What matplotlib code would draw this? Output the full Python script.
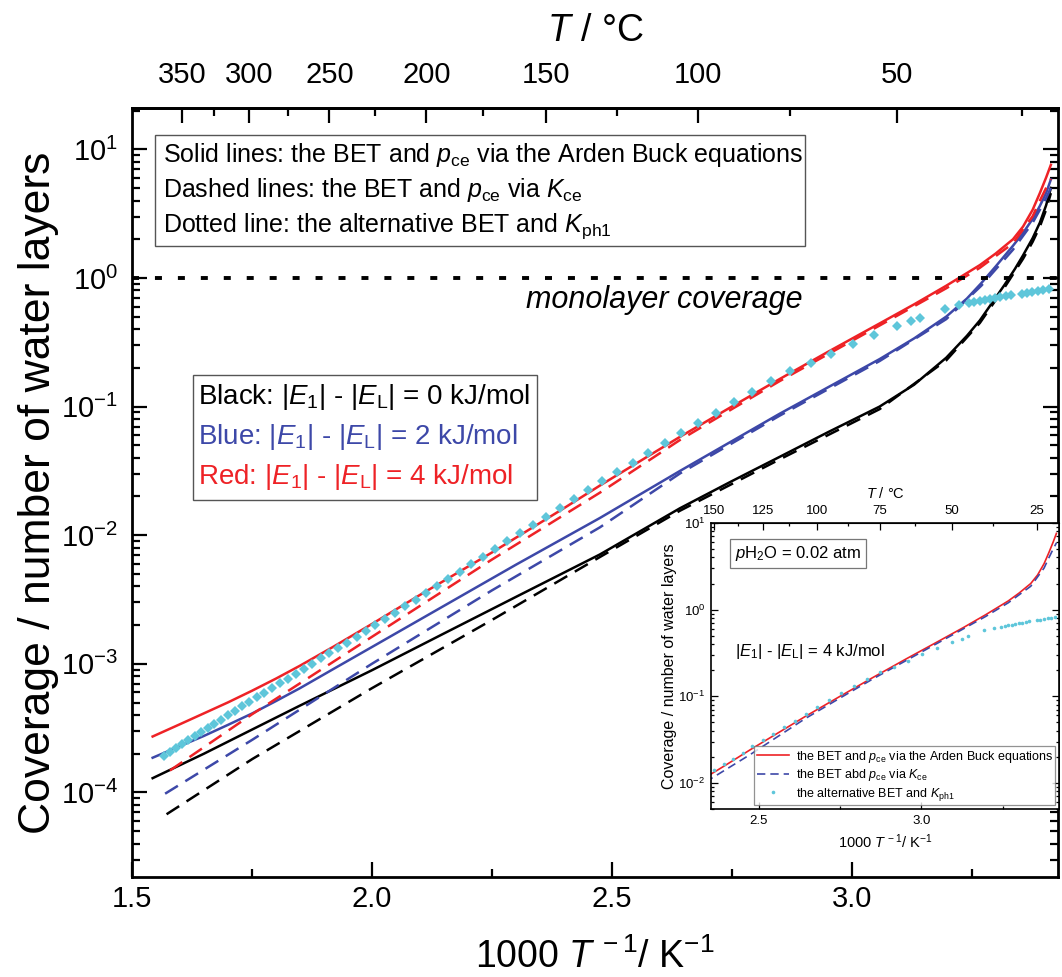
import numpy as np
import matplotlib
matplotlib.use("Agg")
import matplotlib.pyplot as plt
from matplotlib.patches import Rectangle
from matplotlib.ticker import FixedLocator, MultipleLocator, NullFormatter

plt.rcParams['font.family'] = ['Liberation Sans', 'DejaVu Sans']
plt.rcParams['mathtext.fontset'] = 'custom'
plt.rcParams['mathtext.rm'] = 'Liberation Sans'
plt.rcParams['mathtext.it'] = 'Liberation Sans:italic'
plt.rcParams['mathtext.bf'] = 'Liberation Sans:bold'

RED = "#ee2226"
BLUE = "#3d48a8"
CYAN = "#5ec6da"

# ---- data: 1000/T (K^-1) vs coverage ----
# solid lines: BET + p_ce via Arden Buck
x_red = [1.543, 1.60, 1.65, 1.70, 1.75, 1.80, 1.85, 1.92, 2.00, 2.10, 2.25, 2.40,
         2.475, 2.642, 2.75, 2.85, 2.95, 3.058, 3.13, 3.197, 3.267, 3.30, 3.336,
         3.357, 3.377, 3.392, 3.405, 3.415]
y_red = [2.72e-4, 3.39e-4, 4.12e-4, 5.01e-4, 6.17e-4, 7.67e-4, 9.66e-4, 1.36e-3,
         2.04e-3, 3.43e-3, 7.33e-3, 1.62e-2, 2.43e-2, 5.82e-2, 0.100, 0.164, 0.266,
         0.443, 0.624, 0.871, 1.26, 1.55, 2.0, 2.51, 3.39, 4.57, 6.03, 7.59]

x_blue = [1.543, 1.60, 1.65, 1.70, 1.751, 1.80, 1.85, 1.92, 2.0, 2.15, 2.30, 2.475,
          2.642, 2.85, 3.058, 3.13, 3.197, 3.24, 3.27, 3.30, 3.336, 3.357, 3.377,
          3.392, 3.405, 3.415]
y_blue = [1.86e-4, 2.29e-4, 2.75e-4, 3.35e-4, 4.12e-4, 5.13e-4, 6.46e-4, 9.12e-4,
          1.35e-3, 2.82e-3, 5.89e-3, 1.36e-2, 3.16e-2, 8.81e-2, 0.234, 0.339, 0.501,
          0.692, 0.912, 1.23, 1.78, 2.24, 2.88, 3.63, 4.57, 5.83]

x_black = [1.543, 1.65, 1.751, 1.85, 2.0, 2.15, 2.30, 2.475, 2.642, 2.75, 2.85,
           2.95, 3.058, 3.13, 3.197, 3.24, 3.267, 3.295, 3.319, 3.34, 3.357, 3.377,
           3.392, 3.405, 3.415]
y_black = [1.29e-4, 2.00e-4, 3.09e-4, 4.73e-4, 8.91e-4, 1.72e-3, 3.31e-3, 7.08e-3,
           1.62e-2, 2.63e-2, 4.07e-2, 6.31e-2, 0.100, 0.148, 0.240, 0.355, 0.468,
           0.661, 0.891, 1.175, 1.50, 2.04, 2.69, 3.67, 5.01]

# dashed lines: BET + p_ce via K_ce
x_red_d = [1.579, 1.751, 2.0, 2.25, 2.475, 2.642, 2.75, 2.85, 3.058, 3.197, 3.267,
           3.336, 3.377, 3.392, 3.405, 3.415]
y_red_d = [1.48e-4, 4.07e-4, 1.62e-3, 6.46e-3, 2.14e-2, 5.50e-2, 9.55e-2, 0.158,
           0.427, 0.832, 1.20, 1.86, 3.02, 3.98, 5.01, 5.89]

x_blue_d = [1.569, 1.751, 2.0, 2.25, 2.475, 2.642, 2.85, 3.058, 3.197, 3.27,
            3.336, 3.377, 3.392, 3.405, 3.415]
y_blue_d = [9.77e-5, 2.57e-4, 1.0e-3, 3.72e-3, 1.15e-2, 3.02e-2, 8.51e-2, 0.226,
            0.479, 0.871, 1.66, 2.69, 3.39, 4.17, 5.01]

x_black_d = [1.572, 1.751, 2.0, 2.25, 2.475, 2.642, 2.85, 3.058, 3.197, 3.267,
             3.319, 3.357, 3.377, 3.392, 3.405, 3.415]
y_black_d = [6.76e-5, 1.82e-4, 6.46e-4, 2.19e-3, 6.76e-3, 1.55e-2, 3.89e-2, 9.55e-2,
             0.229, 0.447, 0.851, 1.41, 1.91, 2.51, 3.39, 4.57]

# dotted: alternative BET and K_ph1 (one point per temperature, deg C)
t_dots = [365, 360, 355, 350, 345, 340, 335, 330, 325, 320, 315, 310, 305, 300,
          295, 290, 285, 280, 275, 270, 265, 260, 255, 250, 245, 240, 235, 230,
          225, 220, 215, 210, 205, 200, 195, 190, 185, 180, 175, 170, 165, 160,
          155, 150, 145, 140, 135, 130, 125, 120, 115, 110, 105, 100, 95, 90,
          85, 80, 75, 70, 65, 60, 55, 50, 47, 45, 40, 37, 35, 34, 33, 32, 31,
          30, 29, 28, 27, 25, 24, 23, 22, 21, 20]
y_dots = [1.93e-4, 2.06e-4, 2.21e-4, 2.37e-4, 2.54e-4, 2.73e-4, 2.94e-4, 3.16e-4,
          3.41e-4, 3.68e-4, 3.98e-4, 4.32e-4, 4.68e-4, 5.08e-4, 5.50e-4, 5.96e-4,
          6.47e-4, 7.05e-4, 7.67e-4, 8.38e-4, 9.14e-4, 1.00e-3, 1.10e-3, 1.21e-3,
          1.32e-3, 1.46e-3, 1.61e-3, 1.79e-3, 1.99e-3, 2.22e-3, 2.49e-3, 2.79e-3,
          3.15e-3, 3.55e-3, 4.02e-3, 4.56e-3, 5.19e-3, 5.92e-3, 6.78e-3, 7.78e-3,
          8.95e-3, 1.04e-2, 1.20e-2, 1.39e-2, 1.63e-2, 1.91e-2, 2.24e-2, 2.64e-2,
          3.11e-2, 3.67e-2, 4.36e-2, 5.19e-2, 6.21e-2, 7.46e-2, 8.95e-2, 0.108,
          0.131, 0.159, 0.189, 0.220, 0.258, 0.304, 0.360, 0.421, 0.461, 0.491,
          0.577, 0.612, 0.635, 0.647, 0.661, 0.671, 0.682, 0.695, 0.706, 0.719,
          0.731, 0.755, 0.767, 0.780, 0.791, 0.803, 0.817]

top_major = [350, 300, 250, 200, 150, 100, 50]
top_minor = [325, 275, 225, 175, 125, 75, 25]
inset_top_major = [150, 125, 100, 75, 50, 25]
inset_top_minor = [137.5, 112.5, 87.5, 62.5, 37.5]


def inv_to_c(x):
    x = np.asarray(x, dtype=float)
    with np.errstate(divide="ignore"):
        return 1000.0 / x - 273.15


def c_to_inv(t):
    t = np.asarray(t, dtype=float)
    with np.errstate(divide="ignore"):
        return 1000.0 / (t + 273.15)


x_dots = c_to_inv(t_dots)

fig = plt.figure(figsize=(10.62, 9.77), dpi=100)
ax = fig.add_axes([0.1243, 0.1024, 0.872, 0.7871])

SW = 1.8
dash = (0, (6, 3.5))
ax.plot(x_black, y_black, color="black", lw=SW)
ax.plot(x_blue, y_blue, color=BLUE, lw=SW)
ax.plot(x_red, y_red, color=RED, lw=SW)
ax.plot(x_black_d, y_black_d, color="black", lw=SW, ls=dash)
ax.plot(x_blue_d, y_blue_d, color=BLUE, lw=SW, ls=dash)
ax.plot(x_red_d, y_red_d, color=RED, lw=SW, ls=dash)
ax.plot(x_dots, y_dots, ls="none", marker="D", ms=5.6, mew=0, color=CYAN)
ax.axhline(1.0, color="black", lw=2.8, ls=(0, (1.8, 4.1)))

ax.set_yscale("log")
ax.set_xlim(1.5, 3.43)
ax.set_ylim(2.2e-5, 21)
ax.xaxis.set_major_locator(MultipleLocator(0.5))
ax.xaxis.set_minor_locator(MultipleLocator(0.25))
ax.xaxis.set_major_formatter(plt.FuncFormatter(lambda v, p: f"{v:.1f}"))
ax.yaxis.set_minor_formatter(NullFormatter())
for s in ax.spines.values():
    s.set_linewidth(2.0)
ax.tick_params(which="both", direction="in", right=True, top=False, width=1.6,
               labelsize=21)
ax.tick_params(which="major", length=11)
ax.tick_params(which="minor", length=6)
ax.tick_params(axis="x", pad=6)
ax.tick_params(axis="y", pad=10)
ax.set_xlabel(r"1000 $T^{\,-1}$/ K$^{-1}$", fontsize=27, labelpad=18)
ax.set_ylabel("Coverage / number of water layers", fontsize=32, labelpad=1)

top = ax.secondary_xaxis("top", functions=(inv_to_c, c_to_inv))
top.xaxis.set_major_locator(FixedLocator(top_major))
top.xaxis.set_minor_locator(FixedLocator(top_minor))
top.xaxis.set_major_formatter(plt.FuncFormatter(lambda v, p: f"{v:.0f}"))
top.spines["top"].set_linewidth(2.0)
top.tick_params(which="both", direction="in", width=1.6, labelsize=21, pad=14)
top.tick_params(which="major", length=11)
top.tick_params(which="minor", length=6)
top.set_xlabel(r"$T$ / °C", fontsize=27, labelpad=14)

# text boxes
ax.add_patch(Rectangle((0.0248, 0.8205), 0.702, 0.1444, transform=ax.transAxes,
                       fill=False, ec="#555555", lw=1.0))
box1 = ["Solid lines: the BET and $p_{\\rm ce}$ via the Arden Buck equations",
        "Dashed lines: the BET and $p_{\\rm ce}$ via $K_{\\rm ce}$",
        "Dotted line: the alternative BET and $K_{\\rm ph1}$"]
for yy, s in zip([0.9389, 0.8934, 0.8466], box1):
    ax.text(0.0335, yy, s, transform=ax.transAxes, fontsize=18, va="center")

ax.add_patch(Rectangle((0.0659, 0.4903), 0.3715, 0.1625, transform=ax.transAxes,
                       fill=False, ec="#555555", lw=1.0))
box2 = [("Black: $|E_1|$ - $|E_{\\rm L}|$ = 0 kJ/mol", "black"),
        ("Blue: $|E_1|$ - $|E_{\\rm L}|$ = 2 kJ/mol", BLUE),
        ("Red: $|E_1|$ - $|E_{\\rm L}|$ = 4 kJ/mol", RED)]
for yy, (s, c) in zip([0.6242, 0.5722, 0.5202], box2):
    ax.text(0.0713, yy, s, transform=ax.transAxes, fontsize=20, va="center", color=c)

ax.text(0.5745, 0.7503, "monolayer coverage", transform=ax.transAxes,
        fontsize=22, style="italic", ha="center", va="center")

# ---- inset: E1-EL = 4 kJ/mol ----
axin = fig.add_axes([0.6695, 0.172, 0.3277, 0.2927])
axin.plot(x_red, y_red, color=RED, lw=1.2,
          label="the BET and $p_{\\rm ce}$ via the Arden Buck equations")
axin.plot(x_red_d, y_red_d, color=BLUE, lw=1.2, ls=(0, (5, 3)),
          label="the BET abd $p_{\\rm ce}$ via $K_{\\rm ce}$")
axin.plot(x_dots, y_dots, ls="none", marker="o", ms=2.6, mew=0, color=CYAN,
          label="the alternative BET and $K_{\\rm ph1}$")
axin.set_yscale("log")
axin.set_xlim(2.353, 3.423)
axin.set_ylim(0.005, 10)
axin.xaxis.set_major_locator(MultipleLocator(0.5))
axin.xaxis.set_minor_locator(MultipleLocator(0.25))
axin.xaxis.set_major_formatter(plt.FuncFormatter(lambda v, p: f"{v:.1f}"))
axin.yaxis.set_minor_formatter(NullFormatter())
for s in axin.spines.values():
    s.set_linewidth(1.2)
axin.tick_params(which="both", direction="in", right=True, width=0.9,
                 labelsize=9.5, pad=4)
axin.tick_params(which="major", length=5)
axin.tick_params(which="minor", length=2.5)
axin.set_xlabel(r"1000 $T^{\,-1}$/ K$^{-1}$", fontsize=10.5, labelpad=4)
axin.set_ylabel("Coverage / number of water layers", fontsize=11.5, labelpad=1)

itop = axin.secondary_xaxis("top", functions=(inv_to_c, c_to_inv))
itop.xaxis.set_major_locator(FixedLocator(inset_top_major))
itop.xaxis.set_minor_locator(FixedLocator(inset_top_minor))
itop.xaxis.set_major_formatter(plt.FuncFormatter(lambda v, p: f"{v:.0f}"))
itop.tick_params(which="both", direction="in", width=0.9, labelsize=9.5, pad=4)
itop.tick_params(which="major", length=5)
itop.tick_params(which="minor", length=2.5)
itop.set_xlabel(r"$T$ / °C", fontsize=10.5, labelpad=5)

axin.text(0.069, 0.8916, "$p$H$_2$O = 0.02 atm", transform=axin.transAxes,
          fontsize=12, va="center",
          bbox=dict(boxstyle="square,pad=0.3", fc="white", ec="#777777", lw=0.9))
axin.text(0.069, 0.549, "$|E_1|$ - $|E_{\\rm L}|$ = 4 kJ/mol",
          transform=axin.transAxes, fontsize=12, va="center")
leg = axin.legend(loc="lower right", bbox_to_anchor=(1.0, 0.0), fontsize=9,
                  frameon=True, fancybox=False, edgecolor="#777777",
                  handlelength=2.6, labelspacing=0.2, borderaxespad=0.3,
                  borderpad=0.2, handletextpad=0.5, markerscale=1.0)
leg.get_frame().set_linewidth(0.9)

fig.savefig("out.png", dpi=100)
